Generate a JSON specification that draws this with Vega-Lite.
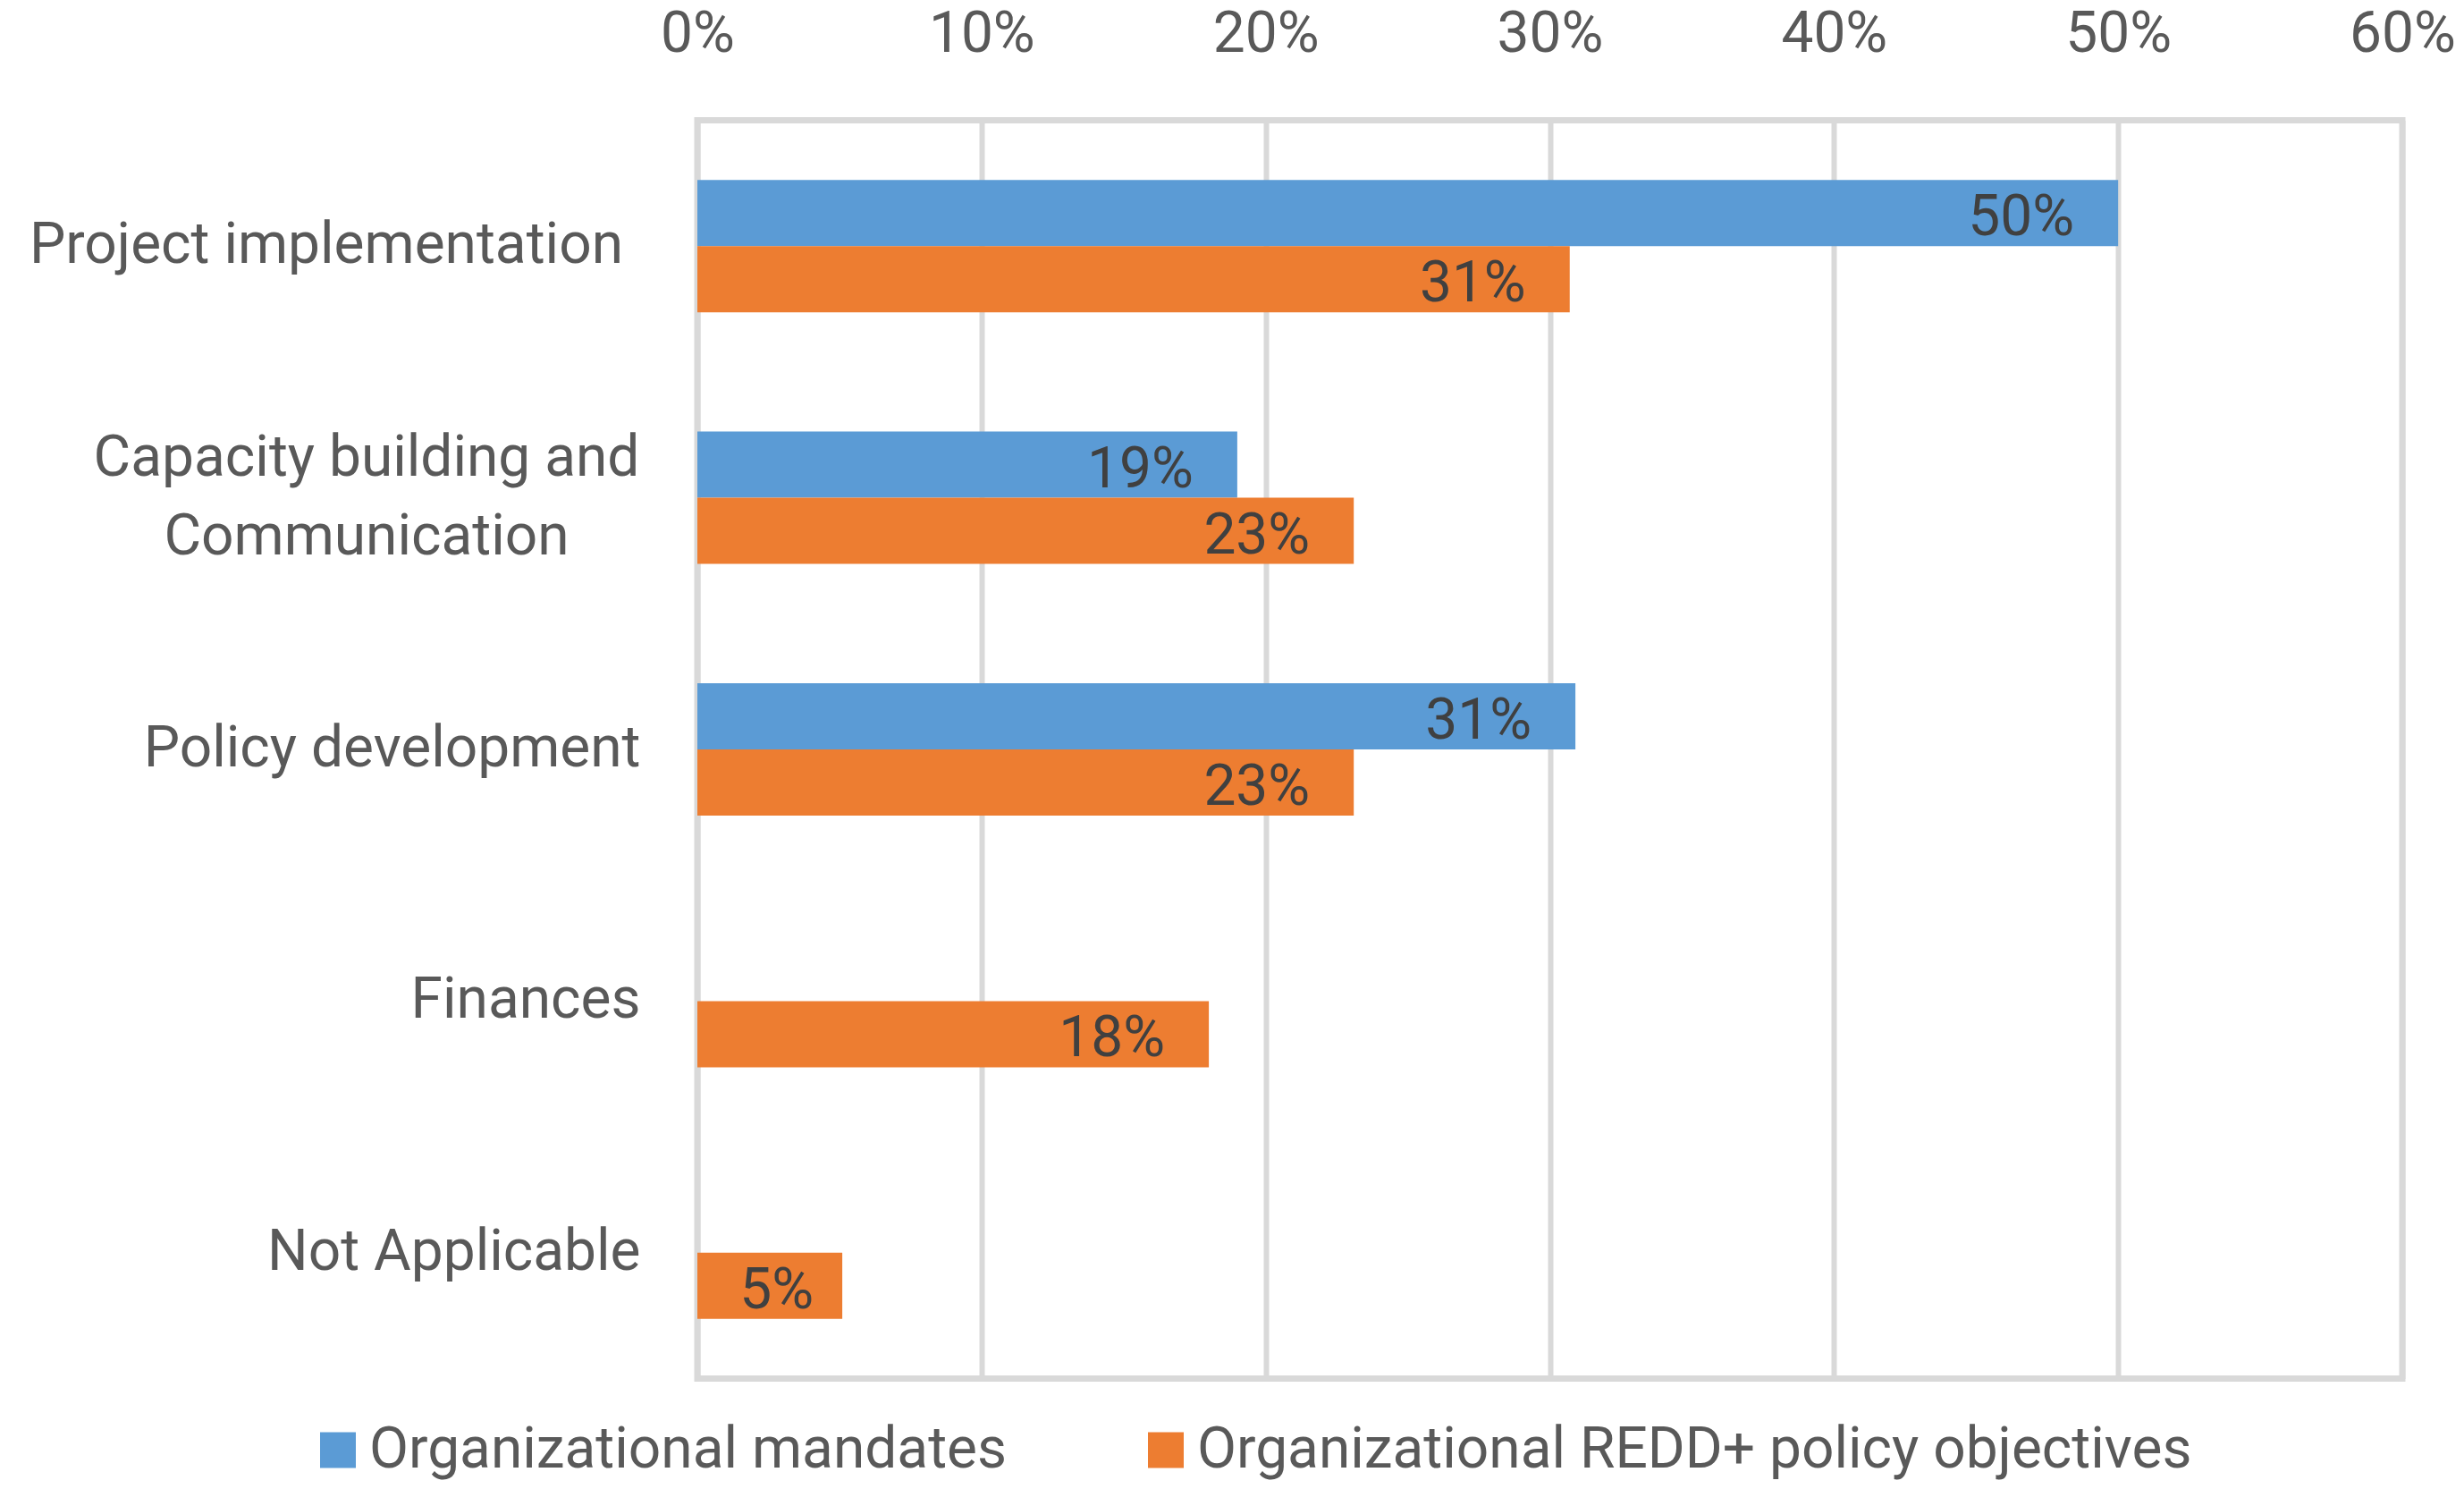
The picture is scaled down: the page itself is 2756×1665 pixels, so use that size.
{
  "$schema": "https://vega.github.io/schema/vega-lite/v6.json",
  "width": 1907,
  "height": 1407,
  "autosize": {"type": "none"},
  "padding": {"left": 780, "top": 134.5, "right": 69, "bottom": 123.5},
  "background": "white",
  "config": {
    "font": "Roboto",
    "view": {"stroke": "#d9d9d9", "strokeWidth": 7}
  },
  "data": {
    "values": [
      {"category": "Project implementation", "series": "Organizational mandates", "value": 0.50},
      {"category": "Project implementation", "series": "Organizational REDD+ policy objectives", "value": 0.307},
      {"category": "Capacity building and Communication", "series": "Organizational mandates", "value": 0.19},
      {"category": "Capacity building and Communication", "series": "Organizational REDD+ policy objectives", "value": 0.231},
      {"category": "Policy development", "series": "Organizational mandates", "value": 0.309},
      {"category": "Policy development", "series": "Organizational REDD+ policy objectives", "value": 0.231},
      {"category": "Finances", "series": "Organizational REDD+ policy objectives", "value": 0.18},
      {"category": "Not Applicable", "series": "Organizational REDD+ policy objectives", "value": 0.051}
    ]
  },
  "encoding": {
    "y": {
      "field": "category",
      "type": "nominal",
      "sort": [
        "Project implementation",
        "Capacity building and Communication",
        "Policy development",
        "Finances",
        "Not Applicable"
      ],
      "scale": {"paddingInner": 0.474, "paddingOuter": 0.237},
      "axis": {
        "title": null,
        "ticks": false,
        "domain": false,
        "grid": false,
        "labelPadding": 64,
        "labelFontSize": 64,
        "labelColor": "#595959",
        "labelLimit": 0,
        "labelExpr": "datum.value == 'Capacity building and Communication' || datum.value == 'Project implementation' ? '' : datum.value"
      }
    }
  },
  "layer": [
    {
      "mark": {"type": "bar"},
      "encoding": {
        "x": {
          "field": "value",
          "type": "quantitative",
          "scale": {"domain": [0, 0.6], "nice": false},
          "axis": {
            "title": null,
            "orient": "top",
            "values": [0, 0.1, 0.2, 0.3, 0.4, 0.5, 0.6],
            "format": ".0%",
            "ticks": false,
            "tickSize": 0,
            "domain": false,
            "grid": true,
            "gridColor": "#d9d9d9",
            "gridWidth": 6,
            "labelPadding": 77,
            "labelBaseline": "alphabetic",
            "labelFontSize": 64,
            "labelColor": "#595959",
            "labelFlush": false
          }
        },
        "yOffset": {
          "field": "series",
          "type": "nominal",
          "scale": {
            "domain": ["Organizational mandates", "Organizational REDD+ policy objectives"],
            "paddingInner": 0,
            "paddingOuter": 0
          }
        },
        "color": {
          "field": "series",
          "type": "nominal",
          "scale": {
            "domain": ["Organizational mandates", "Organizational REDD+ policy objectives"],
            "range": ["#5b9bd5", "#ed7d31"]
          },
          "legend": {
            "title": null,
            "orient": "none",
            "direction": "horizontal",
            "legendX": -434,
            "legendY": 1455,
            "padding": 0,
            "symbolType": "square",
            "symbolSize": 1600,
            "symbolStrokeWidth": 0,
            "labelFontSize": 64,
            "labelColor": "#595959",
            "labelOffset": 3,
            "labelLimit": 2000,
            "columnPadding": 145
          }
        }
      }
    },
    {
      "transform": [{"filter": "datum.value >= 0.1"}],
      "mark": {
        "type": "text",
        "align": "right",
        "baseline": "middle",
        "dx": -49,
        "dy": 6,
        "fontSize": 64,
        "color": "#404040"
      },
      "encoding": {
        "x": {"field": "value", "type": "quantitative"},
        "yOffset": {"field": "series", "type": "nominal"},
        "text": {"field": "value", "type": "quantitative", "format": ".0%"}
      }
    },
    {
      "transform": [{"filter": "datum.value < 0.1"}],
      "mark": {
        "type": "text",
        "align": "right",
        "baseline": "middle",
        "dx": -32,
        "dy": 6,
        "fontSize": 64,
        "color": "#404040"
      },
      "encoding": {
        "x": {"field": "value", "type": "quantitative"},
        "yOffset": {"field": "series", "type": "nominal"},
        "text": {"field": "value", "type": "quantitative", "format": ".0%"}
      }
    },
    {
      "data": {"values": [{"category": "Capacity building and Communication"}]},
      "mark": {
        "type": "text",
        "text": ["Capacity building and", "Communication"],
        "align": "center",
        "baseline": "middle",
        "lineHeight": 88,
        "dx": -370,
        "dy": -44,
        "fontSize": 64,
        "color": "#595959"
      },
      "encoding": {
        "x": {"datum": 0, "type": "quantitative"}
      }
    },
    {
      "data": {"values": [{"category": "Project implementation"}]},
      "mark": {
        "type": "text",
        "align": "right",
        "baseline": "middle",
        "dx": -83,
        "fontSize": 64,
        "color": "#595959"
      },
      "encoding": {
        "x": {"datum": 0, "type": "quantitative"},
        "text": {"field": "category"}
      }
    }
  ]
}
